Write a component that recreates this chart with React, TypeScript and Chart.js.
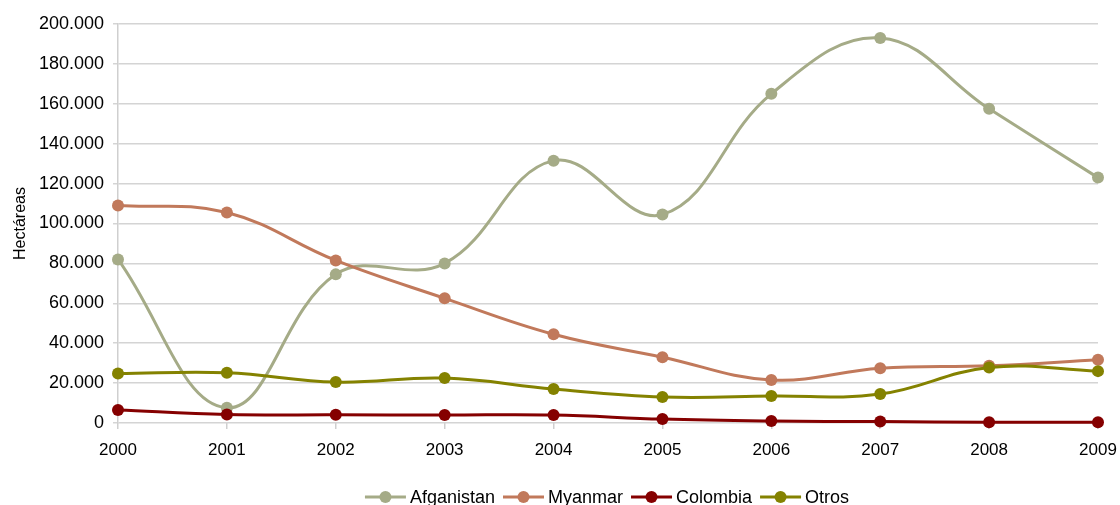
import React, { useEffect, useRef } from "react";
import { Chart, registerables } from "chart.js";

Chart.register(...registerables);

const years = ["2000", "2001", "2002", "2003", "2004", "2005", "2006", "2007", "2008", "2009"];
const afganistan = [82000, 7600, 74500, 80000, 131500, 104500, 165000, 193000, 157500, 123000];
const myanmar = [109000, 105500, 81500, 62500, 44500, 33000, 21600, 27500, 28700, 31700];
const colombia = [6500, 4300, 4100, 4000, 4000, 1950, 1000, 700, 400, 360];
const otros = [24800, 25200, 20500, 22500, 17000, 13000, 13500, 14500, 27800, 26000];

const seriesNames = ["Afganistan", "Myanmar", "Colombia", "Otros"];
const seriesColors = ["#A5AB87", "#C1795B", "#850000", "#848200"];
const yTitle = "Hectáreas";

const fmt = (v: number) => {
  const s = Math.round(v).toString();
  return s.replace(/\B(?=(\d{3})+(?!\d))/g, ".");
};

const FONT = "'Liberation Sans', Arial, sans-serif";

const legendPlugin = {
  id: "customLegend",
  afterDraw(chart: any) {
    const ctx = chart.ctx;
    ctx.save();
    ctx.font = "18px " + FONT;
    ctx.textBaseline = "middle";
    const lineLen = 41;
    const gapText = 4;
    const gapItem = 8;
    const widths = seriesNames.map((n) => ctx.measureText(n).width);
    const total = widths.reduce((a, w) => a + lineLen + gapText + w, 0) + gapItem * (seriesNames.length - 1);
    let x = 607 - total / 2;
    const y = 497;
    seriesNames.forEach((n, i) => {
      ctx.strokeStyle = seriesColors[i];
      ctx.lineWidth = 3;
      ctx.beginPath();
      ctx.moveTo(x, y);
      ctx.lineTo(x + lineLen, y);
      ctx.stroke();
      ctx.fillStyle = seriesColors[i];
      ctx.beginPath();
      ctx.arc(x + lineLen / 2, y, 6, 0, Math.PI * 2);
      ctx.fill();
      ctx.fillStyle = "#000";
      ctx.fillText(n, x + lineLen + gapText, y + 1);
      x += lineLen + gapText + widths[i] + gapItem;
    });
    ctx.restore();
  },
};

export default function App() {
  const ref = useRef<HTMLCanvasElement | null>(null);
  useEffect(() => {
    if (!ref.current) return;
    const data = [afganistan, myanmar, colombia, otros];
    const chart = new Chart(ref.current, {
      type: "line",
      data: {
        labels: years,
        datasets: data.map((d, i) => ({
          label: seriesNames[i],
          data: d,
          borderColor: seriesColors[i],
          backgroundColor: seriesColors[i],
          pointBackgroundColor: seriesColors[i],
          pointBorderColor: seriesColors[i],
          borderWidth: 3,
          pointRadius: 6,
          pointBorderWidth: 0,
          tension: 0.4,
          fill: false,
          clip: false as any,
          order: 4 - i,
        })),
      },
      options: {
        responsive: false,
        animation: false,
        devicePixelRatio: 1,
        layout: { padding: { top: 24, right: 22, bottom: 40, left: 0 } },
        plugins: {
          legend: { display: false },
          tooltip: { enabled: false },
        },
        scales: {
          x: {
            offset: false,
            grid: {
              display: true,
              drawOnChartArea: false,
              drawTicks: true,
              tickLength: 6,
              color: "#cfcfcf",
              lineWidth: 1.5,
            },
            border: { display: false },
            ticks: {
              color: "#000",
              padding: 11,
              maxRotation: 0,
              autoSkip: false,
              font: { family: FONT, size: 17 },
            },
            afterFit: (s: any) => {
              s.height = 42;
              s.paddingRight = 0;
              s.paddingLeft = 0;
            },
          },
          y: {
            min: 0,
            max: 200000,
            grid: {
              color: "#d4d4d4",
              lineWidth: 1.5,
              tickLength: 5,
              drawTicks: true,
            },
            border: { display: true, color: "#cfcfcf", width: 1.5 },
            ticks: {
              stepSize: 20000,
              color: "#000",
              padding: 9,
              font: { family: FONT, size: 18 },
              callback: (v: any) => fmt(Number(v)),
            },
            title: {
              display: true,
              text: yTitle,
              color: "#000",
              padding: { top: 11, bottom: 0 },
              font: { family: FONT, size: 16 },
            },
            afterFit: (s: any) => {
              s.width = 118;
            },
          },
        },
      },
      plugins: [legendPlugin],
    });
    return () => chart.destroy();
  }, []);
  return (
    <div style={{ position: "absolute", left: 0, top: 0, width: 1120, height: 505, background: "#fff" }}>
      <canvas ref={ref} width={1120} height={505} />
    </div>
  );
}
